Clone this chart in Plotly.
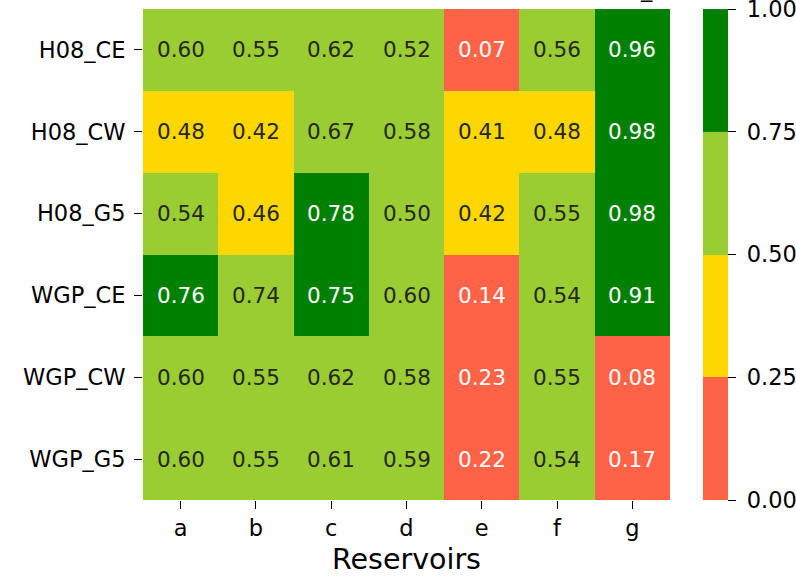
import plotly.graph_objects as go

reservoirs = ["a", "b", "c", "d", "e", "f", "g"]
models = ["H08_CE", "H08_CW", "H08_G5", "WGP_CE", "WGP_CW", "WGP_G5"]
values = [
    [0.60, 0.55, 0.62, 0.52, 0.07, 0.56, 0.96],
    [0.48, 0.42, 0.67, 0.58, 0.41, 0.48, 0.98],
    [0.54, 0.46, 0.78, 0.50, 0.42, 0.55, 0.98],
    [0.76, 0.74, 0.75, 0.60, 0.14, 0.54, 0.91],
    [0.60, 0.55, 0.62, 0.58, 0.23, 0.55, 0.08],
    [0.60, 0.55, 0.61, 0.59, 0.22, 0.54, 0.17],
]
cbar_ticks = [0.0, 0.25, 0.5, 0.75, 1.0]

RED, GOLD, YG, GREEN = "#FF6347", "#FFD700", "#9ACD32", "#008000"
colorscale = [[0, RED], [0.25, RED], [0.25, GOLD], [0.5, GOLD],
              [0.5, YG], [0.75, YG], [0.75, GREEN], [1, GREEN]]

FONT = "DejaVu Sans"
TICK = 22.5
CELL = 21.5

fig = go.Figure(go.Heatmap(
    z=values, x=reservoirs, y=models,
    zmin=0, zmax=1, colorscale=colorscale,
    xgap=0, ygap=0, hoverinfo="skip",
    colorbar=dict(
        x=(703 - 143) / 527, xanchor="left", xpad=0,
        y=0.5, yanchor="middle", len=1, lenmode="fraction", ypad=0,
        thickness=25, thicknessmode="pixels", outlinewidth=0,
        tickvals=cbar_ticks,
        ticktext=["\u2009\u200a" + f"{t:.2f}" for t in cbar_ticks],
        ticks="outside", ticklen=8, tickwidth=1.3, tickcolor="black",
        ticklabeloverflow="allow",
        tickfont=dict(family=FONT, size=TICK, color="black"),
    ),
))

annotations = []
for i, m in enumerate(models):
    for j, r in enumerate(reservoirs):
        v = values[i][j]
        col = "white" if (v < 0.25 or v >= 0.75) else "#262626"
        annotations.append(dict(x=r, y=m, text=f"{v:.2f}", showarrow=False,
                                font=dict(family=FONT, size=CELL, color=col)))
annotations.append(dict(xref="paper", yref="paper", x=(646 - 143) / 527, y=1 + 5 / 491,
                        yanchor="bottom", xanchor="center", text="_", showarrow=False,
                        font=dict(family=FONT, size=TICK, color="black")))

fig.update_layout(
    width=796, height=576,
    margin=dict(l=143, r=126, t=9, b=76, autoexpand=False),
    paper_bgcolor="white", plot_bgcolor="white",
    font=dict(family=FONT, size=TICK, color="black"),
    annotations=annotations,
    xaxis=dict(title=dict(text="Reservoirs", font=dict(size=28.5), standoff=9),
               ticks="outside", ticklen=8, tickwidth=1.3, tickcolor="black",
               showgrid=False, zeroline=False, showline=False,
               tickfont=dict(size=TICK)),
    yaxis=dict(autorange="reversed", ticks="outside", ticklen=8, tickwidth=1.3,
               tickcolor="black", showgrid=False, zeroline=False, showline=False,
               tickfont=dict(size=TICK), ticklabelstandoff=4),
)

fig.write_html("out.html", config={"displayModeBar": False},
               post_script="document.body.style.margin='0';document.body.style.overflow='hidden';")
